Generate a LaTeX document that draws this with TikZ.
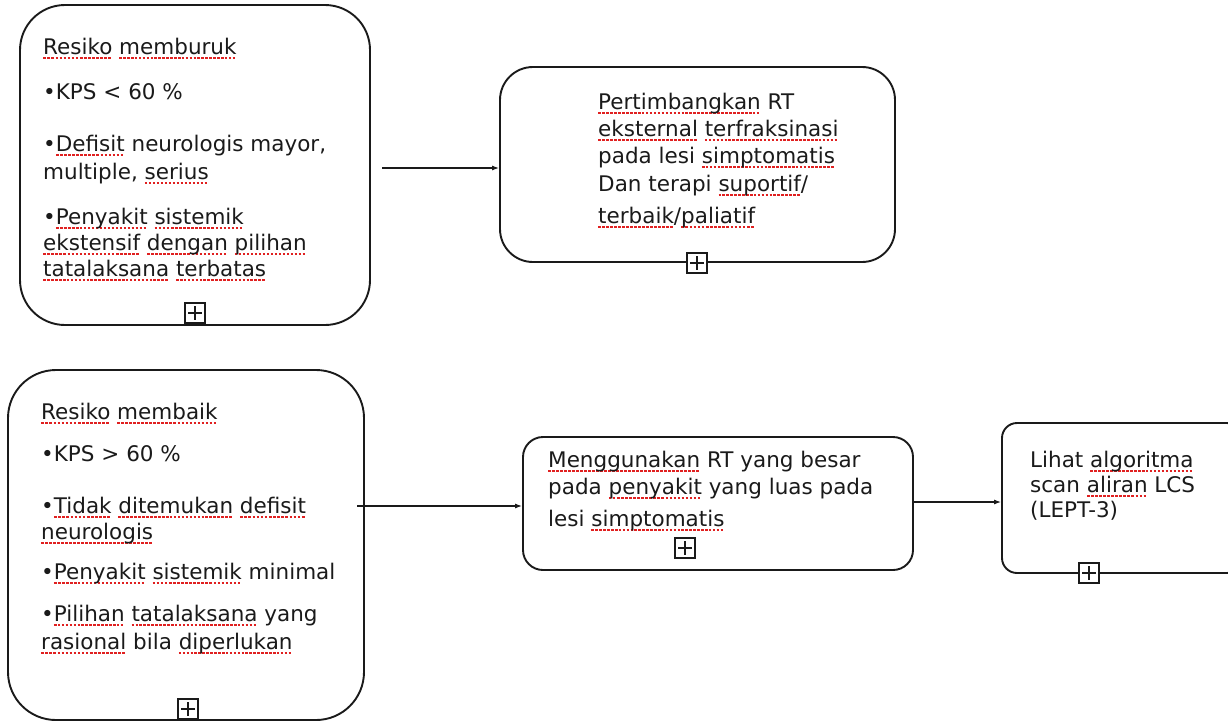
\documentclass[tikz,border=0pt]{standalone}
\usepackage{fontspec}
\setmainfont{DejaVu Sans}
\usetikzlibrary{arrows.meta}
\definecolor{ink}{HTML}{1A1A1A}
\definecolor{spell}{HTML}{E02020}
% red dashed spell-check underline under a word
\newcommand\sq[1]{\leavevmode\setbox0\hbox{#1}%
  \rlap{\color{spell}\lower4.5pt\hbox to \wd0{\xleaders\hbox{\vrule width2.6pt height1.7pt\kern1.3pt}\hfill}}%
  \box0\relax}

\begin{document}
\begin{tikzpicture}[x=1pt,y=-1pt,
  panel/.style={draw=ink, line width=1.9pt, inner sep=0pt},
  txt/.style={anchor=north west, inner sep=0pt, align=left, text=ink,
    font=\fontsize{21.5}{26}\selectfont},
  plusbox/.style={draw=ink, fill=white, line width=1.3pt, minimum size=20pt, inner sep=0pt,
    path picture={\draw[ink, line width=1.3pt]
      ([xshift=3pt]path picture bounding box.west) -- ([xshift=-3pt]path picture bounding box.east)
      ([yshift=-3pt]path picture bounding box.north) -- ([yshift=3pt]path picture bounding box.south);}},
  conn/.style={draw=ink, line width=1.1pt, -{Latex[length=7pt,width=5pt]}}]

\clip (0,0) rectangle (1228,724);
\useasboundingbox (0,0) rectangle (1228,724);

% panels
\node[panel, minimum width=350pt, minimum height=320pt, rounded corners=45pt] (b1) at (195,165) {};
\node[panel, minimum width=395pt, minimum height=195pt, rounded corners=33pt] (b2) at (697.5,164.5) {};
\node[panel, minimum width=356pt, minimum height=350pt, rounded corners=48pt] (b3) at (186,545) {};
\node[panel, minimum width=390pt, minimum height=133pt, rounded corners=20pt] (b4) at (718,503.5) {};
\node[panel, minimum width=240pt, minimum height=150pt, rounded corners=15pt] (b5) at (1122,498) {};

% panel texts
\node[txt] (t1) at (43,38) {\sq{Resiko} \sq{memburuk}\\[19pt]
  •KPS < 60 \%\\[26pt]
  •\sq{Defisit} neurologis mayor,\\[2pt]
  multiple, \sq{serius}\\[19pt]
  •\sq{Penyakit} \sq{sistemik}\\
  \sq{ekstensif} \sq{dengan} \sq{pilihan}\\
  \sq{tatalaksana} \sq{terbatas}};

\node[txt] (t2) at (598,93) {\sq{Pertimbangkan} RT\\[1pt]
  \sq{eksternal} \sq{terfraksinasi}\\[1pt]
  pada lesi \sq{simptomatis}\\[2pt]
  Dan terapi \sq{suportif}/\\[6pt]
  \sq{terbaik}/\sq{paliatif}};

\node[txt] (t3) at (41,403) {\sq{Resiko} \sq{membaik}\\[16pt]
  •KPS > 60 \%\\[26pt]
  •\sq{Tidak} \sq{ditemukan} \sq{defisit}\\
  \sq{neurologis}\\[14pt]
  •\sq{Penyakit} \sq{sistemik} minimal\\[16pt]
  •\sq{Pilihan} \sq{tatalaksana} yang\\[2pt]
  \sq{rasional} bila \sq{diperlukan}};

\node[txt] (t4) at (548,451) {\sq{Menggunakan} RT yang besar\\[1pt]
  pada \sq{penyakit} yang luas pada\\[6pt]
  lesi \sq{simptomatis}};

\node[txt] (t5) at (1030,451) {Lihat \sq{algoritma}\\[-1pt]
  scan \sq{aliran} LCS\\[-1pt]
  (LEPT-3)};

% expand markers
\node[plusbox] (p1) at (195,313) {};
\node[plusbox] (p2) at (697,263) {};
\node[plusbox] (p3) at (188,709) {};
\node[plusbox] (p4) at (685,548) {};
\node[plusbox] (p5) at (1089,573) {};

% connectors
\coordinate (a1) at (382,168);
\draw[conn] (a1) -- (a1 -| b2.west);
\coordinate (a2) at (357,506);
\draw[conn] (a2) -- (a2 -| b4.west);
\draw[conn] (b4.east |- 0,502) -- (b5.west |- 0,502);
\end{tikzpicture}
\end{document}
